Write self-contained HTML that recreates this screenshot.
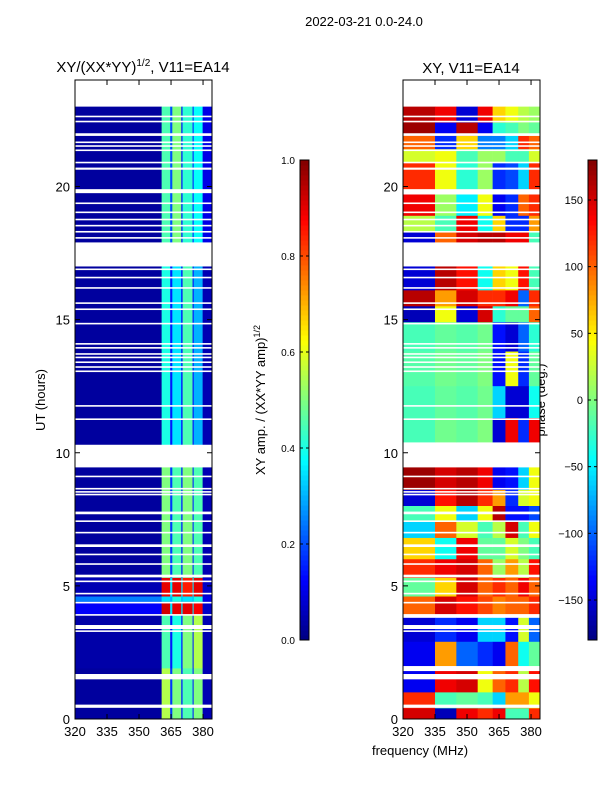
<!DOCTYPE html>
<html><head><meta charset="utf-8"><style>
body{margin:0;background:#fff;font-family:"Liberation Sans",sans-serif;}
svg text{font-family:"Liberation Sans",sans-serif;fill:#000;}
</style></head><body>
<svg id="fig" width="600" height="800" xmlns="http://www.w3.org/2000/svg">
<text x="364" y="26" font-size="13" text-anchor="middle">2022-03-21 0.0-24.0</text>
<text x="143" y="72" font-size="15" text-anchor="middle">XY/(XX*YY)<tspan font-size="10" dy="-6">1/2</tspan><tspan dy="6">, V11=EA14</tspan></text>
<text x="471" y="73" font-size="15" text-anchor="middle">XY, V11=EA14</text>
<text transform="translate(45,400) rotate(-90)" font-size="13" text-anchor="middle">UT (hours)</text>
<text x="420" y="755" font-size="13" text-anchor="middle">frequency (MHz)</text>
<text transform="translate(265,400) rotate(-90)" font-size="13" text-anchor="middle">XY amp. / (XX*YY amp)<tspan font-size="9" dy="-5">1/2</tspan></text>
<text transform="translate(545,400) rotate(-90)" font-size="13" text-anchor="middle">phase (deg.)</text>
<g id="g"></g>
</svg>
<script>
const timeRange=[0,24];
const freqRange=[320,384.2];
const xTicks=[320,335,350,365,380];
const yTicks=[0,5,10,15,20];
const ampTicks=[0.0,0.2,0.4,0.6,0.8,1.0];
const phaseTicks=[-150,-100,-50,0,50,100,150];
// amplitude freq band edges
const ampFreqEdges=[320,360.6,364.6,365.6,369.8,370.4,375.1,375.6,379.8,384.2];
// amplitude segments: [t0,t1, low, s1, gap, s2, gap, s3, gap, s4, high]
const ampSegs=[
[17.9,23.0,0.03,0.45,0.2,0.5,0.15,0.42,0.15,0.38,0.1],
[10.3,17.0,0.03,0.40,0.15,0.35,0.12,0.45,0.12,0.30,0.05],
[5.3,9.5,0.03,0.50,0.18,0.45,0.15,0.50,0.15,0.45,0.05],
[4.6,5.3,0.05,0.90,0.35,0.90,0.35,0.85,0.35,0.90,0.07],
[4.4,4.6,0.25,0.35,0.3,0.40,0.3,0.35,0.3,0.40,0.1],
[3.9,4.4,0.12,0.92,0.35,0.90,0.35,0.90,0.35,0.88,0.07],
[1.9,3.9,0.04,0.45,0.15,0.40,0.15,0.50,0.15,0.55,0.05],
[0.0,1.9,0.03,0.55,0.18,0.50,0.15,0.45,0.15,0.50,0.05]];
// phase freq bands
const phaseFreqEdges=[320,335,345,355,362,368,374,379,384.2];
const phaseSegs=[
[22.4,23.0,160,140,-150,140,60,40,20,10],
[21.9,22.4,170,-140,160,-140,-30,-20,0,-10],
[21.4,21.9,100,-120,60,-90,-90,-60,120,100],
[20.9,21.4,30,40,-20,10,10,-20,-20,30],
[19.9,20.9,120,40,-30,10,-120,-110,-60,120],
[18.9,19.7,140,10,-50,40,-140,-120,100,120],
[18.3,18.9,20,-20,140,-40,60,-120,-120,80],
[17.9,18.3,-150,100,150,160,160,140,140,-20],
[16.1,17.0,-150,160,130,-40,60,40,130,-20],
[15.5,16.1,160,80,150,120,120,140,-100,120],
[14.9,15.5,-160,40,-150,150,-30,-10,-10,100],
[13.8,14.9,-20,-10,-15,-5,-130,-150,-100,-30],
[12.5,13.8,-15,-5,-10,0,-130,40,-120,-10],
[11.3,12.5,-20,-10,-15,-5,-60,-150,-150,-40],
[10.4,11.3,-20,-5,-10,0,-150,140,-120,140],
[8.6,9.5,170,150,160,140,-140,-130,-60,40],
[8.0,8.6,-150,130,160,120,80,-120,30,40],
[7.4,8.0,-20,40,-60,40,160,-130,-130,-110],
[6.8,7.4,-60,100,30,-20,20,150,-20,40],
[6.0,6.8,60,-40,140,-10,-10,30,0,-20],
[5.3,6.0,120,140,150,100,10,80,20,130],
[4.6,5.3,-10,60,150,100,120,100,140,100],
[3.9,4.6,100,150,130,110,90,100,100,120],
[2.9,3.8,-150,-120,-140,-60,-60,-130,30,-100],
[2.0,2.9,-140,80,-100,-120,-140,100,-40,-10],
[1.0,1.8,-140,140,150,40,100,120,20,130],
[0.4,1.0,120,-20,-10,-20,-60,80,80,40],
[0.0,0.4,150,-160,140,120,140,-20,-20,120]];
// missing data intervals (hours)
const gaps=[[22.6,22.66],[22.41,22.47],[21.9,22.0],[21.63,21.69],[21.49,21.55],[21.33,21.39],[20.87,20.93],[20.63,20.71],[19.75,19.9],[19.34,19.4],[19.0,19.06],[18.73,18.79],[18.5,18.56],[18.27,18.33],[18.04,18.1],[17.0,17.9],[16.86,16.92],[16.55,16.61],[16.16,16.22],[15.59,15.65],[15.36,15.42],[14.82,14.88],[14.06,14.12],[13.91,13.97],[13.68,13.74],[13.55,13.61],[13.37,13.43],[13.19,13.25],[13.03,13.09],[11.73,11.79],[11.23,11.29],[9.76,10.3],[9.45,9.65],[9.08,9.14],[8.62,8.68],[8.5,8.56],[8.4,8.46],[7.69,7.79],[7.4,7.46],[6.97,7.03],[6.46,6.56],[6.15,6.21],[5.79,5.85],[5.32,5.42],[5.14,5.2],[4.68,4.74],[4.34,4.4],[3.88,3.94],[3.38,3.53],[3.27,3.33],[1.49,1.69],[0.42,0.54]];

function jet(v){v=Math.max(0,Math.min(1,v));
 const r=Math.max(0,Math.min(1,1.5-Math.abs(4*v-3)));
 const g=Math.max(0,Math.min(1,1.5-Math.abs(4*v-2)));
 const b=Math.max(0,Math.min(1,1.5-Math.abs(4*v-1)));
 return `rgb(${Math.round(r*255)},${Math.round(g*255)},${Math.round(b*255)})`;}
const NS="http://www.w3.org/2000/svg";
const G=document.getElementById('g');
function mk(tag,attrs,parent){const e=document.createElementNS(NS,tag);for(const k in attrs)e.setAttribute(k,attrs[k]);(parent||G).appendChild(e);return e;}
const AX={top:80,bot:719};
function yS(t){return AX.bot-(t-timeRange[0])/(timeRange[1]-timeRange[0])*(AX.bot-AX.top);}
function makeX(x0,x1){return f=>x0+(f-freqRange[0])/(freqRange[1]-freqRange[0])*(x1-x0);}

function panel(name,x0,x1,edges,segs,valFn){
 const xS=makeX(x0,x1);
 const g=mk('g',{});
 
 
 segs.forEach(s=>{
  for(let i=0;i<edges.length-1;i++){
   const r=mk('rect',{x:xS(edges[i]),y:yS(s[1]),width:xS(edges[i+1])-xS(edges[i])+0.3,height:yS(s[0])-yS(s[1])+0.3,fill:jet(valFn(s[2+i]))},g);
   
   
  }
 });
 gaps.forEach(gp=>{
  const r=mk('rect',{x:x0,y:yS(gp[1]),width:x1-x0,height:yS(gp[0])-yS(gp[1]),fill:'#fff'},g);
  
  
 });
 const fr=mk('rect',{x:x0,y:AX.top,width:x1-x0,height:AX.bot-AX.top,fill:'none',stroke:'#000','stroke-width':1});
 
 
 xTicks.forEach(t=>{const x=xS(t);
  mk('line',{x1:x,x2:x,y1:AX.bot,y2:AX.bot-5,stroke:'#000'});
  mk('line',{x1:x,x2:x,y1:AX.top,y2:AX.top+5,stroke:'#000'});
  const tx=mk('text',{x:x,y:AX.bot+17,'font-size':13,'text-anchor':'middle'});tx.textContent=t;
  
  
 });
 yTicks.forEach(t=>{const y=yS(t);
  mk('line',{x1:x0,x2:x0+5,y1:y,y2:y,stroke:'#000'});
  mk('line',{x1:x1,x2:x1-5,y1:y,y2:y,stroke:'#000'});
  const tx=mk('text',{x:x0-5,y:y+5,'font-size':13,'text-anchor':'end'});tx.textContent=t;
  
  
 });
}
panel('amplitude',75,212,ampFreqEdges,ampSegs,v=>v);
panel('phase',403,540,phaseFreqEdges,phaseSegs,v=>(v+180)/360);

function cbar(name,x,ticks,lo,hi,fmt){
 const g=mk('g',{});
 
 
 const N=96,top=160,bot=640,w=9;
 for(let i=0;i<N;i++){mk('rect',{x:x,y:bot-(i+1)*(bot-top)/N,width:w,height:(bot-top)/N+0.5,fill:jet((i+0.5)/N)},g);}
 mk('rect',{x:x,y:top,width:w,height:bot-top,fill:'none',stroke:'#000'},g);
 ticks.forEach(t=>{const y=bot-(t-lo)/(hi-lo)*(bot-top);
  mk('line',{x1:x,x2:x+3,y1:y,y2:y,stroke:'#000'},g);
  mk('line',{x1:x+w,x2:x+w-3,y1:y,y2:y,stroke:'#000'},g);
  const tx=mk('text',{x:x-5,y:y+4,'font-size':fmt?10:11,'text-anchor':'end'},g);
  tx.textContent=fmt?t.toFixed(1):(t<0?'\u2212'+(-t):t);
  
  
 });
}
cbar('amplitude-colorbar',300,ampTicks,0,1,true);
cbar('phase-colorbar',588,phaseTicks,-180,180,false);
</script>
</body></html>
